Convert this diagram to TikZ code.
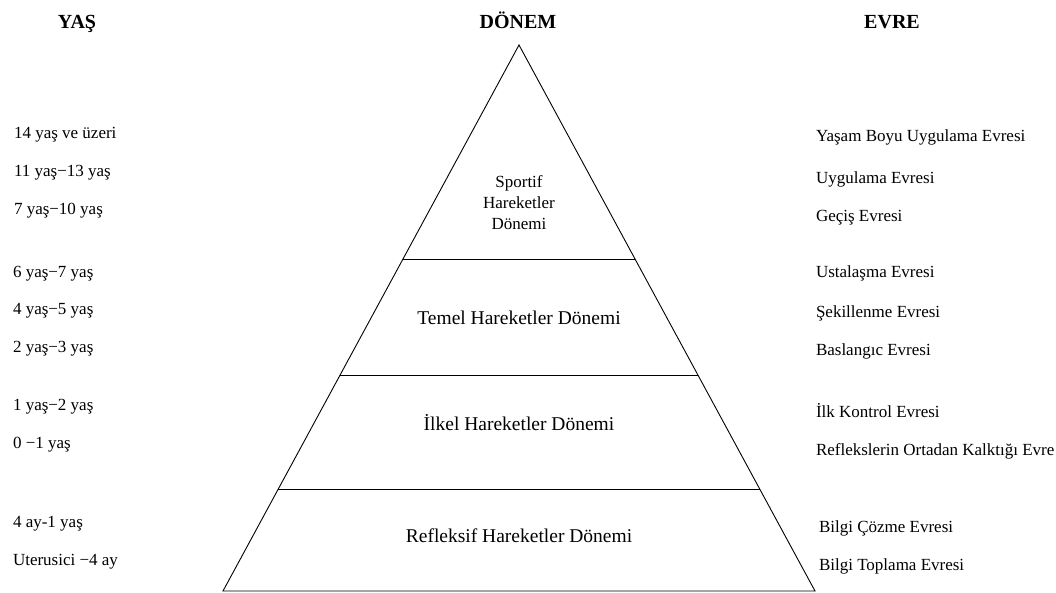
\documentclass[tikz,border=0pt]{standalone}
\usepackage{fontspec}
\setmainfont{Liberation Serif}
\usetikzlibrary{calc}
\begin{document}
\begin{tikzpicture}[x=1pt,y=-1pt,
  every node/.style={inner sep=0pt, outer sep=0pt, text=black},
  head/.style={font=\fontsize{20}{24}\selectfont\bfseries, anchor=base},
  agetext/.style={font=\fontsize{17}{20}\selectfont, anchor=base west},
  stagetext/.style={font=\fontsize{17}{20}\selectfont, anchor=base west},
  periodtext/.style={font=\fontsize{19.5}{23}\selectfont, anchor=base},
  edge/.style={draw=black, line width=0.9pt}]
\useasboundingbox (0,0) rectangle (1056,593);

% column headings
\node[head] (hage)    at (77,29)  {YAŞ};
\node[head] (hperiod) at (518,29) {DÖNEM};
\node[head] (hstage)  at (892,29) {EVRE};

% pyramid outline
\coordinate (apex) at (519,45);
\coordinate (bl) at (223,591);
\coordinate (br) at (815,591);
\draw[edge, line join=miter] (apex) -- (bl) -- (br) -- cycle;

% horizontal dividers between the periods
\foreach \t/\n in {0.3919/1, 0.6044/2, 0.8132/3} {
  \coordinate (l\n) at ($(apex)!\t!(bl)$);
  \coordinate (r\n) at ($(apex)!\t!(br)$);
  \draw[edge] (l\n) -- (r\n);
}

% period labels
\node[font=\fontsize{17}{21}\selectfont, align=center] (psport) at (519,203)
  {Sportif\\Hareketler\\Dönemi};
\node[periodtext] (ptemel) at (519,324.5) {Temel Hareketler Dönemi};
\node[periodtext] (pilkel) at (519,430.5) {İlkel Hareketler Dönemi};
\node[periodtext] (prefl)  at (519,542.5) {Refleksif Hareketler Dönemi};

% ages
\node[agetext] (a1)  at (14,139) {14 yaş ve üzeri};
\node[agetext] (a2)  at (14,177) {11 yaş−13 yaş};
\node[agetext] (a3)  at (14,215) {7 yaş−10 yaş};
\node[agetext] (a4)  at (13,277) {6 yaş−7 yaş};
\node[agetext] (a5)  at (13,314) {4 yaş−5 yaş};
\node[agetext] (a6)  at (13,352) {2 yaş−3 yaş};
\node[agetext] (a7)  at (13,410) {1 yaş−2 yaş};
\node[agetext] (a8)  at (13,448) {0 −1 yaş};
\node[agetext] (a9)  at (13,527) {4 ay-1 yaş};
\node[agetext] (a10) at (13,565) {Uterusici −4 ay};

% stages
\node[stagetext] (s1)  at (816,142) {Yaşam Boyu Uygulama Evresi};
\node[stagetext] (s2)  at (816,184) {Uygulama Evresi};
\node[stagetext] (s3)  at (816,222) {Geçiş Evresi};
\node[stagetext] (s4)  at (816,278) {Ustalaşma Evresi};
\node[stagetext] (s5)  at (816,317) {Şekillenme Evresi};
\node[stagetext] (s6)  at (816,355) {Baslangıc Evresi};
\node[stagetext] (s7)  at (816,417) {İlk Kontrol Evresi};
\node[stagetext] (s8)  at (816,455) {Reflekslerin Ortadan Kalktığı Evre};
\node[stagetext] (s9)  at (819,532) {Bilgi Çözme Evresi};
\node[stagetext] (s10) at (819,570) {Bilgi Toplama Evresi};
\end{tikzpicture}
\end{document}
